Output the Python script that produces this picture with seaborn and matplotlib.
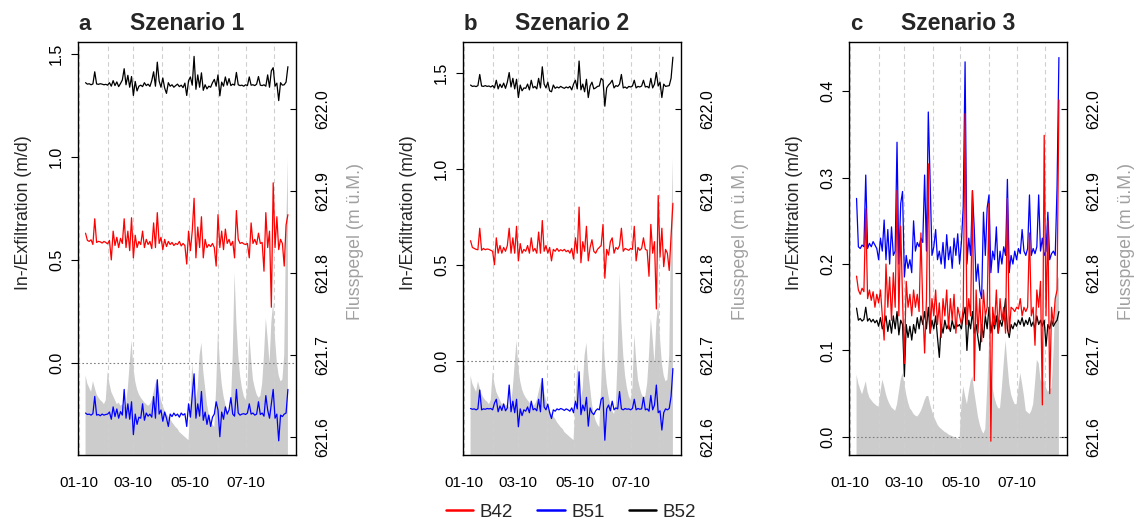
import numpy as np
import pandas as pd
import matplotlib
matplotlib.use("Agg")
import matplotlib.pyplot as plt
from matplotlib.lines import Line2D
import seaborn as sns

sns.set_style("white")
plt.rcParams['font.family'] = ['Liberation Sans', 'DejaVu Sans']

# ---------------- data (every second day, 2010-01-08 .. 2010-08-16) ----------------
start_date = "2010-01-08"
n_points = 111

a_b52 = [1.362, 1.355, 1.357, 1.352, 1.356, 1.415, 1.356, 1.354, 1.357, 1.355,
         1.352, 1.354, 1.350, 1.362, 1.345, 1.372, 1.348, 1.366, 1.343, 1.358,
         1.375, 1.430, 1.352, 1.398, 1.340, 1.392, 1.300, 1.368, 1.322, 1.345,
         1.350, 1.343, 1.362, 1.348, 1.355, 1.344, 1.372, 1.415, 1.345, 1.462,
         1.370, 1.340, 1.385, 1.336, 1.310, 1.362, 1.345, 1.352, 1.340, 1.348,
         1.355, 1.343, 1.350, 1.338, 1.360, 1.300, 1.372, 1.390, 1.350, 1.490,
         1.330, 1.400, 1.340, 1.410, 1.325, 1.352, 1.332, 1.345, 1.340, 1.362,
         1.378, 1.345, 1.400, 1.298, 1.365, 1.345, 1.390, 1.350, 1.382, 1.348,
         1.355, 1.350, 1.412, 1.352, 1.348, 1.350, 1.345, 1.352, 1.348, 1.390,
         1.350, 1.352, 1.348, 1.355, 1.392, 1.350, 1.348, 1.352, 1.345, 1.400,
         1.340, 1.420, 1.435, 1.345, 1.360, 1.275, 1.362, 1.350, 1.352, 1.365,
         1.440]
a_b42 = [0.630, 0.595, 0.590, 0.598, 0.575, 0.700, 0.585, 0.590, 0.588, 0.582,
         0.590, 0.585, 0.578, 0.595, 0.500, 0.640, 0.570, 0.610, 0.560, 0.605,
         0.580, 0.700, 0.560, 0.640, 0.545, 0.705, 0.510, 0.620, 0.560, 0.590,
         0.575, 0.640, 0.560, 0.600, 0.575, 0.590, 0.555, 0.680, 0.560, 0.730,
         0.580, 0.610, 0.550, 0.600, 0.565, 0.590, 0.575, 0.585, 0.570, 0.580,
         0.575, 0.590, 0.568, 0.580, 0.570, 0.480, 0.640, 0.545, 0.640, 0.800,
         0.510, 0.660, 0.560, 0.710, 0.510, 0.600, 0.560, 0.575, 0.565, 0.580,
         0.560, 0.470, 0.720, 0.560, 0.640, 0.550, 0.650, 0.580, 0.600, 0.570,
         0.590, 0.510, 0.740, 0.600, 0.580, 0.585, 0.578, 0.575, 0.580, 0.510,
         0.680, 0.580, 0.600, 0.575, 0.630, 0.580, 0.585, 0.445, 0.730, 0.560,
         0.640, 0.270, 0.875, 0.560, 0.710, 0.550, 0.600, 0.580, 0.470, 0.670,
         0.720]
a_b51 = [-0.245, -0.252, -0.250, -0.255, -0.248, -0.164, -0.255, -0.252, -0.258, -0.250,
         -0.255, -0.252, -0.250, -0.240, -0.275, -0.215, -0.262, -0.225, -0.270, -0.238,
         -0.255, -0.130, -0.270, -0.200, -0.275, -0.190, -0.350, -0.250, -0.300, -0.265,
         -0.270, -0.200, -0.280, -0.245, -0.260, -0.250, -0.265, -0.165, -0.270, -0.083,
         -0.250, -0.230, -0.285, -0.240, -0.270, -0.310, -0.250, -0.262, -0.245, -0.258,
         -0.250, -0.265, -0.245, -0.255, -0.248, -0.310, -0.200, -0.265, -0.160, -0.054,
         -0.270, -0.200, -0.260, -0.140, -0.280, -0.240, -0.300, -0.255, -0.310, -0.265,
         -0.250, -0.190, -0.230, -0.360, -0.240, -0.275, -0.215, -0.250, -0.230, -0.170,
         -0.250, -0.260, -0.130, -0.245, -0.255, -0.250, -0.248, -0.252, -0.245, -0.200,
         -0.250, -0.245, -0.255, -0.250, -0.190, -0.252, -0.245, -0.260, -0.160, -0.230,
         -0.270, -0.200, -0.130, -0.270, -0.250, -0.380, -0.255, -0.262, -0.250, -0.245,
         -0.130]
river_ab = [621.675, 621.665, 621.660, 621.655, 621.668, 621.660, 621.652, 621.648, 621.645, 621.643,
            621.640, 621.645, 621.680, 621.665, 621.655, 621.650, 621.645, 621.640, 621.642, 621.638,
            621.640, 621.636, 621.640, 621.660, 621.690, 621.718, 621.685, 621.668, 621.658, 621.652,
            621.648, 621.645, 621.642, 621.640, 621.638, 621.640, 621.645, 621.655, 621.665, 621.670,
            621.655, 621.645, 621.638, 621.632, 621.628, 621.625, 621.622, 621.618, 621.615, 621.612,
            621.610, 621.606, 621.604, 621.602, 621.600, 621.598, 621.596, 621.640, 621.690, 621.660,
            621.645, 621.660, 621.700, 621.715, 621.680, 621.660, 621.640, 621.628, 621.620, 621.615,
            621.612, 621.660, 621.730, 621.690, 621.665, 621.650, 621.640, 621.632, 621.628, 621.640,
            621.700, 621.800, 621.740, 621.700, 621.675, 621.660, 621.650, 621.645, 621.660, 621.725,
            621.695, 621.670, 621.660, 621.652, 621.648, 621.650, 621.665, 621.700, 621.745, 621.720,
            621.690, 621.740, 621.765, 621.720, 621.690, 621.675, 621.668, 621.670, 621.700, 621.850,
            621.940]

b_b52 = [1.435, 1.428, 1.430, 1.427, 1.432, 1.490, 1.430, 1.428, 1.432, 1.428,
         1.430, 1.425, 1.432, 1.420, 1.460, 1.415, 1.440, 1.422, 1.445, 1.418,
         1.450, 1.500, 1.425, 1.470, 1.415, 1.465, 1.370, 1.435, 1.405, 1.420,
         1.418, 1.440, 1.410, 1.460, 1.420, 1.428, 1.415, 1.470, 1.420, 1.530,
         1.440, 1.420, 1.450, 1.405, 1.400, 1.435, 1.418, 1.425, 1.420, 1.428,
         1.422, 1.418, 1.425, 1.420, 1.428, 1.410, 1.440, 1.460, 1.415, 1.560,
         1.410, 1.440, 1.400, 1.465, 1.370, 1.430, 1.450, 1.415, 1.420, 1.428,
         1.430, 1.470, 1.460, 1.325, 1.420, 1.435, 1.445, 1.460, 1.420, 1.432,
         1.428, 1.440, 1.490, 1.420, 1.425, 1.418, 1.428, 1.425, 1.430, 1.460,
         1.420, 1.428, 1.425, 1.430, 1.460, 1.425, 1.428, 1.420, 1.470, 1.420,
         1.440, 1.500, 1.430, 1.450, 1.370, 1.440, 1.428, 1.430, 1.432, 1.470,
         1.580]
b_b42 = [0.625, 0.590, 0.585, 0.580, 0.578, 0.690, 0.575, 0.585, 0.578, 0.582,
         0.580, 0.575, 0.570, 0.500, 0.640, 0.560, 0.600, 0.560, 0.590, 0.570,
         0.600, 0.690, 0.560, 0.640, 0.560, 0.700, 0.520, 0.610, 0.560, 0.580,
         0.570, 0.600, 0.560, 0.640, 0.570, 0.585, 0.560, 0.670, 0.560, 0.730,
         0.570, 0.600, 0.560, 0.590, 0.520, 0.580, 0.570, 0.585, 0.570, 0.578,
         0.572, 0.580, 0.568, 0.575, 0.560, 0.585, 0.530, 0.640, 0.560, 0.800,
         0.510, 0.620, 0.570, 0.700, 0.520, 0.590, 0.630, 0.570, 0.560, 0.580,
         0.590, 0.600, 0.710, 0.430, 0.580, 0.550, 0.620, 0.640, 0.560, 0.590,
         0.580, 0.600, 0.690, 0.570, 0.585, 0.580, 0.575, 0.585, 0.580, 0.700,
         0.520, 0.590, 0.575, 0.585, 0.640, 0.580, 0.575, 0.440, 0.710, 0.560,
         0.620, 0.270, 0.860, 0.540, 0.690, 0.490, 0.580, 0.560, 0.470, 0.650,
         0.820]
b_b51 = [-0.248, -0.252, -0.250, -0.255, -0.250, -0.152, -0.255, -0.250, -0.252, -0.248,
         -0.250, -0.248, -0.255, -0.220, -0.200, -0.265, -0.235, -0.258, -0.225, -0.260,
         -0.245, -0.126, -0.265, -0.210, -0.270, -0.200, -0.343, -0.250, -0.285, -0.255,
         -0.262, -0.240, -0.270, -0.210, -0.255, -0.248, -0.260, -0.200, -0.265, -0.092,
         -0.240, -0.255, -0.225, -0.270, -0.300, -0.255, -0.262, -0.250, -0.255, -0.248,
         -0.252, -0.258, -0.250, -0.255, -0.262, -0.245, -0.270, -0.210, -0.250, -0.057,
         -0.280, -0.230, -0.260, -0.190, -0.340, -0.245, -0.270, -0.280, -0.260, -0.250,
         -0.255, -0.200, -0.190, -0.413, -0.250, -0.230, -0.260, -0.210, -0.255, -0.245,
         -0.250, -0.160, -0.250, -0.255, -0.248, -0.252, -0.250, -0.255, -0.248, -0.200,
         -0.255, -0.248, -0.252, -0.250, -0.190, -0.255, -0.250, -0.262, -0.180, -0.255,
         -0.230, -0.126, -0.270, -0.260, -0.360, -0.270, -0.250, -0.255, -0.248, -0.185,
         -0.040]

c_b51 = [0.276, 0.220, 0.218, 0.222, 0.220, 0.303, 0.218, 0.224, 0.220, 0.226,
         0.222, 0.218, 0.205, 0.230, 0.215, 0.251, 0.205, 0.240, 0.200, 0.243,
         0.210, 0.215, 0.341, 0.200, 0.270, 0.284, 0.185, 0.210, 0.195, 0.205,
         0.190, 0.250, 0.215, 0.225, 0.220, 0.230, 0.225, 0.303, 0.215, 0.376,
         0.296, 0.210, 0.220, 0.240, 0.205, 0.215, 0.200, 0.225, 0.195, 0.234,
         0.205, 0.220, 0.195, 0.230, 0.210, 0.235, 0.200, 0.225, 0.267, 0.434,
         0.200, 0.230, 0.210, 0.285, 0.240, 0.180, 0.200, 0.170, 0.160, 0.260,
         0.210, 0.265, 0.280, 0.190, 0.215, 0.205, 0.243, 0.190, 0.215, 0.200,
         0.220, 0.210, 0.298, 0.190, 0.210, 0.200, 0.215, 0.205, 0.218, 0.212,
         0.240, 0.215, 0.210, 0.218, 0.280, 0.210, 0.218, 0.212, 0.220, 0.280,
         0.215, 0.230, 0.210, 0.215, 0.260, 0.205, 0.212, 0.215, 0.210, 0.290,
         0.439]
c_b42 = [0.186, 0.170, 0.165, 0.172, 0.168, 0.264, 0.160, 0.170, 0.158, 0.168,
         0.150, 0.165, 0.155, 0.170, 0.140, 0.112, 0.200, 0.150, 0.185, 0.135,
         0.190, 0.150, 0.285, 0.140, 0.244, 0.160, 0.085, 0.180, 0.150, 0.165,
         0.140, 0.170, 0.150, 0.165, 0.145, 0.236, 0.150, 0.097, 0.160, 0.316,
         0.120, 0.160, 0.140, 0.170, 0.130, 0.155, 0.115, 0.160, 0.140, 0.170,
         0.125, 0.160, 0.135, 0.165, 0.120, 0.150, 0.140, 0.130, 0.150, 0.374,
         0.130, 0.160, 0.140, 0.285, 0.065, 0.170, 0.120, 0.160, 0.110, 0.170,
         0.140, 0.150, 0.270, -0.005, 0.150, 0.130, 0.170, 0.120, 0.160, 0.135,
         0.150, 0.120, 0.276, 0.120, 0.150, 0.148, 0.145, 0.150, 0.148, 0.160,
         0.140, 0.150, 0.145, 0.150, 0.236, 0.140, 0.150, 0.106, 0.170, 0.150,
         0.180, 0.037, 0.349, 0.140, 0.250, 0.050, 0.150, 0.130, 0.160, 0.170,
         0.390]
c_b52 = [0.149, 0.135, 0.137, 0.134, 0.136, 0.150, 0.134, 0.137, 0.133, 0.136,
         0.132, 0.135, 0.128, 0.138, 0.125, 0.130, 0.140, 0.122, 0.135, 0.120,
         0.140, 0.125, 0.145, 0.118, 0.135, 0.130, 0.070, 0.130, 0.115, 0.128,
         0.112, 0.130, 0.120, 0.138, 0.125, 0.140, 0.130, 0.145, 0.125, 0.150,
         0.120, 0.135, 0.125, 0.140, 0.115, 0.092, 0.130, 0.120, 0.135, 0.125,
         0.130, 0.122, 0.135, 0.125, 0.132, 0.128, 0.130, 0.125, 0.140, 0.150,
         0.100, 0.135, 0.125, 0.145, 0.120, 0.130, 0.115, 0.100, 0.130, 0.115,
         0.140, 0.125, 0.150, 0.120, 0.135, 0.125, 0.140, 0.120, 0.135, 0.128,
         0.140, 0.160, 0.125, 0.115, 0.130, 0.125, 0.132, 0.128, 0.135, 0.130,
         0.138, 0.128, 0.135, 0.130, 0.138, 0.128, 0.133, 0.125, 0.140, 0.130,
         0.135, 0.128, 0.135, 0.105, 0.130, 0.125, 0.135, 0.128, 0.132, 0.135,
         0.145]
river_c = [621.676, 621.665, 621.658, 621.652, 621.660, 621.668, 621.655, 621.648, 621.645, 621.642,
           621.640, 621.638, 621.637, 621.655, 621.670, 621.662, 621.652, 621.645, 621.640, 621.636,
           621.634, 621.632, 621.640, 621.655, 621.670, 621.678, 621.665, 621.652, 621.642, 621.635,
           621.632, 621.628, 621.626, 621.625, 621.628, 621.632, 621.638, 621.645, 621.650, 621.650,
           621.640, 621.632, 621.625, 621.620, 621.615, 621.612, 621.610, 621.608, 621.606, 621.605,
           621.603, 621.602, 621.601, 621.600, 621.599, 621.598, 621.597, 621.640, 621.662, 621.650,
           621.640, 621.655, 621.668, 621.674, 621.655, 621.640, 621.625, 621.615, 621.608, 621.604,
           621.610, 621.660, 621.712, 621.680, 621.660, 621.648, 621.640, 621.635, 621.635, 621.660,
           621.690, 621.718, 621.690, 621.665, 621.652, 621.645, 621.640, 621.640, 621.660, 621.678,
           621.665, 621.650, 621.632, 621.630, 621.628, 621.632, 621.640, 621.665, 621.694, 621.690,
           621.670, 621.665, 621.670, 621.660, 621.655, 621.658, 621.660, 621.700, 621.760, 621.790,
           621.796]

series_names = ["B42", "B51", "B52"]
series_colors = {"B42": "#ff0000", "B51": "#0000ff", "B52": "#000000"}
panel_letters = ["a", "b", "c"]
panel_titles = ["Szenario 1", "Szenario 2", "Szenario 3"]
left_ticks = [[0.0, 0.5, 1.0, 1.5], [0.0, 0.5, 1.0, 1.5], [0.0, 0.1, 0.2, 0.3, 0.4]]
right_ticks = [621.6, 621.7, 621.8, 621.9, 622.0]

# ---------------- figure ----------------
W, H = 1142, 525
fig = plt.figure(figsize=(W / 100, H / 100), dpi=100)
dates = pd.date_range(start_date, periods=n_points, freq="2D")
month_starts = pd.date_range("2010-01-01", "2010-08-01", freq="MS")
origin = pd.Timestamp("2010-01-01")

panels = [
    dict(left=78, ylim=(-0.449, 1.56), data=(a_b42, a_b51, a_b52), river=river_ab, ytl=["0.0", "0.5", "1.0", "1.5"]),
    dict(left=463, ylim=(-0.49, 1.659), data=(b_b42, b_b51, b_b52), river=river_ab, ytl=["0.0", "0.5", "1.0", "1.5"]),
    dict(left=849, ylim=(-0.021, 0.457), data=(c_b42, c_b51, c_b52), river=river_c, ytl=["0.0", "0.1", "0.2", "0.3", "0.4"]),
]
ax_w, ax_top, ax_bot = 218, 42, 455

for k, p in enumerate(panels):
    ax = fig.add_axes([p["left"] / W, 1 - ax_bot / H, ax_w / W, (ax_bot - ax_top) / H])
    ax2 = ax.twinx()
    # river level (right axis)
    ax2.fill_between(dates, p["river"], 621.0, color="#cccccc", lw=0)
    ax2.set_ylim(621.578, 622.082)
    ax2.set_yticks(right_ticks)
    ax2.set_yticklabels([f"{v:.1f}" for v in right_ticks], rotation=90, va="center", ha="left", fontsize=11.5)
    ax2.tick_params(axis="y", direction="in", length=4, width=0.8, pad=14, colors="black")
    for s in ax2.spines.values():
        s.set_visible(False)
    ax2.set_ylabel("Flusspegel (m ü.M.)", color="#a0a0a0", fontsize=12.8)
    ax2.yaxis.label.set_va("center")
    ax2.yaxis.set_label_coords(1.271, 0.516)

    ax.set_zorder(ax2.get_zorder() + 1)
    ax.patch.set_visible(False)

    for d in month_starts:
        ax.axvline(d, color="#cfcfcf", lw=0.8, ls=(0, (4, 3)), zorder=0)
    ax.axhline(0, color="#808080", lw=0.8, ls=(0, (1.5, 2)), zorder=0)

    b42, b51, b52 = p["data"]
    df = pd.DataFrame({
        "date": np.tile(dates, 3),
        "value": np.concatenate([b52, b51, b42]),
        "series": np.repeat(["B52", "B51", "B42"], n_points),
    })
    sns.lineplot(data=df, x="date", y="value", hue="series", hue_order=["B52", "B51", "B42"],
                 palette=series_colors, lw=0.9, estimator=None, sort=False, legend=False, ax=ax)

    ax.set_xlim(origin - pd.Timedelta(days=1.2), origin + pd.Timedelta(days=235.8))
    ax.set_ylim(*p["ylim"])
    ax.set_yticks(left_ticks[k])
    ax.set_yticklabels(p["ytl"], rotation=90, va="center", ha="right", fontsize=11.5)
    ax.set_xticks(month_starts)
    ax.set_xticklabels([d.strftime("%m-%y") if d.month % 2 == 1 else "" for d in month_starts], fontsize=11)
    ax.tick_params(axis="both", direction="out", length=5, width=0.8, colors="black")
    ax.tick_params(axis="y", pad=5)
    ax.tick_params(axis="x", pad=10)
    ax.set_xlabel("")
    ax.set_ylabel("In-/Exfiltration (m/d)", fontsize=12.8)
    ax.yaxis.label.set_va("center")
    ax.yaxis.set_label_coords(-0.252, 0.588)
    for s in ax.spines.values():
        s.set_visible(True)
        s.set_color("black")
        s.set_linewidth(1.0)

    # panel letter and title
    fig.text((p["left"] + 7) / W, 1 - 24 / H, panel_letters[k], fontsize=16, fontweight="bold",
             ha="center", va="center")
    fig.text((p["left"] + 109) / W, 1 - 24 / H, panel_titles[k], fontsize=16.5, fontweight="bold",
             ha="center", va="center")

handles = [Line2D([0], [0], color=series_colors[n], lw=1.8) for n in series_names]
fig.legend(handles, series_names, loc="center", bbox_to_anchor=(0.5, 1 - 512 / H), ncol=3, frameon=False,
           fontsize=13.5, handlelength=1.45, handletextpad=0.35, columnspacing=1.3)

fig.savefig("out.png", dpi=100)
